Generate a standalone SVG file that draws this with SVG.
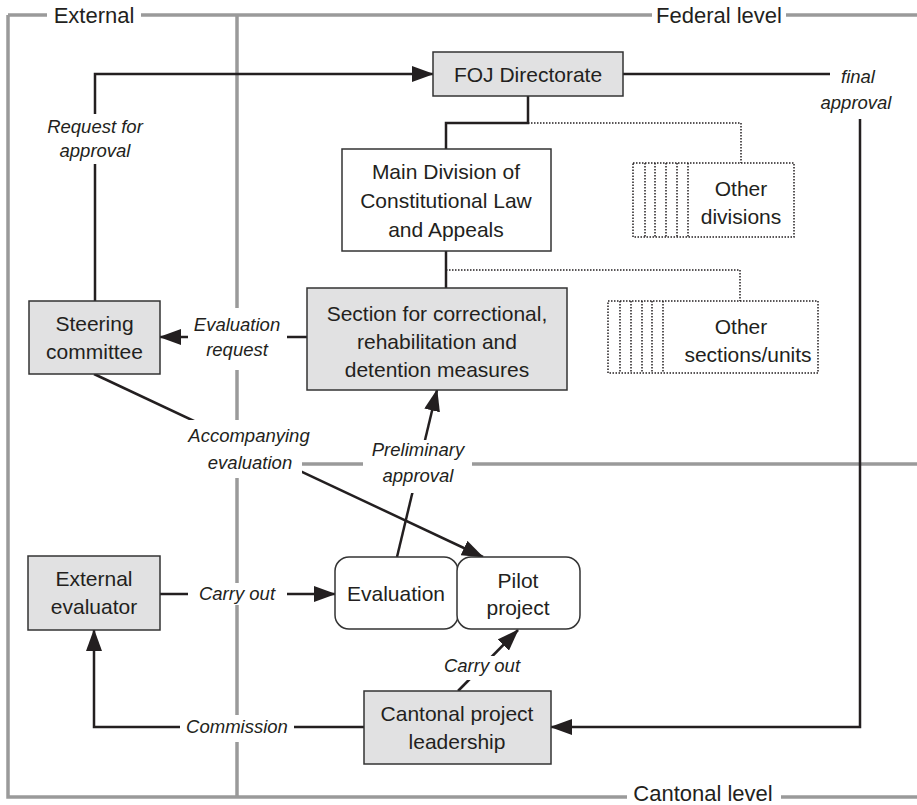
<svg xmlns="http://www.w3.org/2000/svg" width="917" height="805" viewBox="0 0 917 805">
<style>
.frame{fill:none;stroke:#9a9a9a;stroke-width:3.5}
.conn{fill:none;stroke:#231f20;stroke-width:2.5}
.dot{fill:none;stroke:#231f20;stroke-width:1.5;stroke-dasharray:1.5 1.5}
.box{fill:#e1e1e2;stroke:#333;stroke-width:1.5}
.wbox{fill:#fff;stroke:#333;stroke-width:1.5}
.dbox{fill:#fff;stroke:#231f20;stroke-width:1.5;stroke-dasharray:1.5 1.5}
.bg{fill:#fff}
text{font-family:"Liberation Sans",Arial,sans-serif;fill:#231f20;text-anchor:middle}
.n{font-size:21px}
.lab{font-size:18.5px;font-style:italic}
.fl{font-size:22px}
</style>
<defs>
<marker id="ah" markerUnits="userSpaceOnUse" markerWidth="22" markerHeight="16" refX="21" refY="8" orient="auto">
<path d="M0,0 L22,8 L0,16 z" fill="#231f20"/>
</marker>
</defs>
<g id="frame">
<path class="frame" d="M8,15 H917 M8,15 V797 H917 M237,15 V797 M237,464 H917"/>
</g>
<g id="connectors">
<path class="conn" d="M528,96 V123 H446 V149"/>
<path class="conn" d="M446,251 V288"/>
<path class="dot" d="M528,123 H741 V163"/>
<path class="dot" d="M446,270 H740 V301"/>
<path class="conn" marker-end="url(#ah)" d="M95,301 V74 H433"/>
<path class="conn" marker-end="url(#ah)" d="M307,337 H160"/>
<path class="conn" marker-end="url(#ah)" d="M94,374 L483,557"/>
<path class="conn" marker-end="url(#ah)" d="M397,557 L437,390"/>
<path class="conn" marker-end="url(#ah)" d="M160,594 H335"/>
<path class="conn" marker-end="url(#ah)" d="M458,691 L518,630"/>
<path class="conn" marker-end="url(#ah)" d="M364,727 H94 V630"/>
<path class="conn" marker-end="url(#ah)" d="M623,74 H860 V727 H551"/>
</g>
<g id="label-bg">
<rect class="bg" x="47" y="2" width="94" height="26"/>
<rect class="bg" x="652" y="2" width="134" height="26"/>
<rect class="bg" x="627" y="784" width="154" height="21"/>
<rect class="bg" x="40" y="114" width="110" height="50"/>
<rect class="bg" x="830" y="62" width="62" height="57"/>
<rect class="bg" x="188" y="308" width="99" height="62"/>
<rect class="bg" x="184" y="420" width="132" height="28"/>
<rect class="bg" x="200" y="448" width="102" height="30"/>
<rect class="bg" x="363" y="440" width="109" height="26"/>
<rect class="bg" x="378" y="466" width="80" height="27"/>
<rect class="bg" x="188" y="583" width="99" height="22"/>
<rect class="bg" x="440" y="656" width="84" height="24"/>
<rect class="bg" x="180" y="715" width="114" height="27"/>
</g>
<g id="labels">
<text class="fl" x="94" y="23">External</text>
<text class="fl" x="719" y="23">Federal level</text>
<text class="fl" x="703" y="801">Cantonal level</text>
<text class="lab" x="95" y="133">Request for</text>
<text class="lab" x="95" y="157">approval</text>
<text class="lab" x="858" y="83">final</text>
<text class="lab" x="856" y="109">approval</text>
<text class="lab" x="237" y="331">Evaluation</text>
<text class="lab" x="237" y="356">request</text>
<text class="lab" x="249" y="442">Accompanying</text>
<text class="lab" x="250" y="469">evaluation</text>
<text class="lab" x="418" y="456">Preliminary</text>
<text class="lab" x="418" y="482">approval</text>
<text class="lab" x="237" y="600">Carry out</text>
<text class="lab" x="482" y="672">Carry out</text>
<text class="lab" x="237" y="733">Commission</text>
</g>
<g id="foj">
<rect class="box" x="433" y="52" width="190" height="44"/>
<text class="n" x="528" y="82">FOJ Directorate</text>
</g>
<g id="main-division">
<rect class="wbox" x="342" y="149" width="209" height="102"/>
<text class="n" x="446" y="179">Main Division of</text>
<text class="n" x="446" y="208">Constitutional Law</text>
<text class="n" x="446" y="237">and Appeals</text>
</g>
<g id="other-divisions">
<rect class="dbox" x="633" y="163" width="161" height="74"/>
<path class="dot" d="M645,163 V237 M655,163 V237 M666,163 V237 M677,163 V237 M688,163 V237"/>
<text class="n" x="741" y="196">Other</text>
<text class="n" x="741" y="224">divisions</text>
</g>
<g id="section">
<rect class="box" x="307" y="288" width="260" height="102"/>
<text class="n" x="437" y="321">Section for correctional,</text>
<text class="n" x="437" y="349">rehabilitation and</text>
<text class="n" x="437" y="377">detention measures</text>
</g>
<g id="other-sections">
<rect class="dbox" x="608" y="301" width="210" height="72"/>
<path class="dot" d="M620,301 V373 M631,301 V373 M642,301 V373 M652,301 V373 M663,301 V373"/>
<text class="n" x="741" y="334">Other</text>
<text class="n" x="748" y="362">sections/units</text>
</g>
<g id="steering">
<rect class="box" x="29" y="301" width="131" height="73"/>
<text class="n" x="94.5" y="331">Steering</text>
<text class="n" x="94.5" y="359">committee</text>
</g>
<g id="external-evaluator">
<rect class="box" x="28" y="556" width="132" height="74"/>
<text class="n" x="94" y="586">External</text>
<text class="n" x="94" y="614">evaluator</text>
</g>
<g id="evaluation">
<rect class="wbox" x="335" y="557" width="123" height="72" rx="14"/>
<text class="n" x="396" y="601">Evaluation</text>
</g>
<g id="pilot">
<rect class="wbox" x="457" y="557" width="123" height="72" rx="14"/>
<text class="n" x="518" y="588">Pilot</text>
<text class="n" x="518" y="615">project</text>
</g>
<g id="cantonal">
<rect class="box" x="364" y="691" width="187" height="73"/>
<text class="n" x="457" y="721">Cantonal project</text>
<text class="n" x="457" y="749">leadership</text>
</g>
</svg>
